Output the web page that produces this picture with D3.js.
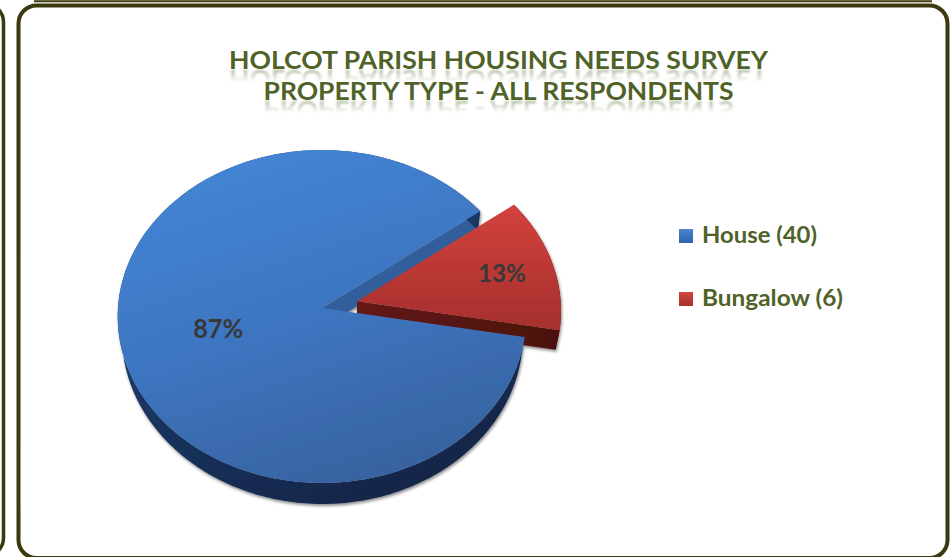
<!DOCTYPE html>
<html>
<head>
<meta charset="utf-8">
<script src="https://cdn.jsdelivr.net/npm/d3@7"></script>
<style>
  html, body { margin: 0; padding: 0; background: #ffffff; }
  svg { display: block; }
</style>
</head>
<body>
<svg id="chart" width="951" height="557"></svg>
<script>
// ---- data ----
const titleLines = ["HOLCOT PARISH HOUSING NEEDS SURVEY", "PROPERTY TYPE - ALL RESPONDENTS"];
const categories = ["House", "Bungalow"];
const counts = [40, 6];

// ---- layout / style ----
const W = 951, H = 557;
const CX = 322, CY = 308;         // projected pie centre
const RX = 204, RY = 150.3;       // projected radii
const G = -0.051;                 // perspective factor (front larger than back)
const DEPTH = 20;                 // extrusion height of the pie
const VP = [345, 1400];           // vanishing point of the extrusion
const explode = [0, 0.177];
const labelRadius = [0.52, 0.74];
const olive = "#4f6228";
const frameColor = "#3b390d";
const fontFamily = "Lato, 'Open Sans', 'DejaVu Sans', sans-serif";

const svg = d3.select("#chart");
const defs = svg.append("defs");

function grad(id, stops, x1, y1, x2, y2) {
  const g = defs.append("linearGradient").attr("id", id)
    .attr("x1", x1).attr("y1", y1).attr("x2", x2).attr("y2", y2);
  stops.forEach(([o, c]) => g.append("stop").attr("offset", o).attr("stop-color", c));
}
grad("blueTop", [[0, "#4486d6"], [0.55, "#3d74bf"], [1, "#3763a0"]], 0.2, 0, 0.6, 1);
grad("blueSide", [[0, "#25497c"], [1, "#12264a"]], 0, 0, 0.6, 1);
grad("blueCut", [[0, "#3567a6"], [1, "#2b5690"]], 0, 0, 1, 1);
grad("redTop", [[0, "#d3423d"], [1, "#a52f2d"]], 0, 0, 0, 1);
grad("redSide", [[0, "#641a16"], [1, "#4a110e"]], 0, 0, 1, 0);
grad("blueKey", [[0, "#4a86d0"], [1, "#2f62a6"]], 0, 0, 0, 1);
grad("redKey", [[0, "#d2453f"], [1, "#a8302c"]], 0, 0, 0, 1);

const shadow = defs.append("filter").attr("id", "pieShadow")
  .attr("x", "-10%").attr("y", "-10%").attr("width", "120%").attr("height", "125%");
shadow.append("feDropShadow").attr("dx", 1).attr("dy", 2)
  .attr("stdDeviation", 1.6).attr("flood-color", "#000").attr("flood-opacity", 0.45);

const softBlur = defs.append("filter").attr("id", "softBlur")
  .attr("x", "-5%").attr("y", "-30%").attr("width", "110%").attr("height", "160%");
softBlur.append("feGaussianBlur").attr("stdDeviation", 1.1);

// ---- frames ----
svg.append("rect").attr("x", -400).attr("y", 4).attr("width", 403.5).attr("height", 552)
  .attr("rx", 18).attr("fill", "none").attr("stroke", frameColor).attr("stroke-width", 3.5);
svg.append("line").attr("x1", 34).attr("x2", 932).attr("y1", 1.2).attr("y2", 1.2)
  .attr("stroke", frameColor).attr("stroke-width", 2);
svg.append("rect").attr("x", 18.5).attr("y", 5.5).attr("width", 929).attr("height", 552.5)
  .attr("rx", 18).attr("fill", "#ffffff").attr("stroke", frameColor).attr("stroke-width", 4);

// ---- title: two lines in one text, with a faded mirror under each line ----
const titleBase = [69, 100];
const titleLen = [539, 470];
const reflH = 13;
titleBase.forEach((b, i) => {
  const mg = defs.append("linearGradient").attr("id", "reflFade" + i)
    .attr("gradientUnits", "userSpaceOnUse")
    .attr("x1", 0).attr("x2", 0).attr("y1", b).attr("y2", b + reflH);
  mg.append("stop").attr("offset", 0).attr("stop-color", "#fff").attr("stop-opacity", 0.45);
  mg.append("stop").attr("offset", 1).attr("stop-color", "#fff").attr("stop-opacity", 0);
  defs.append("mask").attr("id", "reflMask" + i)
    .attr("maskUnits", "userSpaceOnUse").attr("x", 0).attr("y", b).attr("width", W).attr("height", reflH)
    .append("rect").attr("x", 0).attr("y", b).attr("width", W).attr("height", reflH)
    .attr("fill", `url(#reflFade${i})`);
  svg.append("g").attr("mask", `url(#reflMask${i})`)
    .append("use").attr("href", "#chartTitle")
    .attr("filter", "url(#softBlur)")
    .attr("transform", `translate(0,${2 * b + 1}) scale(1,-1)`);
});
svg.append("text").attr("id", "chartTitle")
  .attr("text-anchor", "middle")
  .attr("font-family", fontFamily).attr("font-weight", 700).attr("font-size", 25.5)
  .attr("fill", olive)
  .selectAll("tspan").data(titleLines).join("tspan")
  .attr("x", 498.5).attr("y", (d, i) => titleBase[i])
  .attr("textLength", (d, i) => titleLen[i]).attr("lengthAdjust", "spacingAndGlyphs")
  .text(d => d);

// ---- 3D pie ----
const deg = Math.PI / 180;
const pie = d3.pie().sort(null).startAngle(100 * deg).endAngle(460 * deg);
const arcs = pie(counts);
const total = d3.sum(counts);
const pct = d3.format(".0%");

// disk-plane point -> screen; h = 0 top face, 1 bottom face
function project(u, v, h) {
  const w = 1 + G * v;
  const top = [CX + RX * u / w, (RY * v + CY) / w];
  if (!h) return top;
  const dx = VP[0] - top[0], dy = VP[1] - top[1], len = Math.hypot(dx, dy);
  const d = DEPTH * h / w;
  return [top[0] + d * dx / len, top[1] + d * dy / len];
}
function offsetOf(i) {
  const a = arcs[i], mid = (a.startAngle + a.endAngle) / 2, e = explode[i];
  return [e * Math.sin(mid), -e * Math.cos(mid)];
}
function rimPoint(i, ang, r, h) {
  const [ox, oy] = offsetOf(i);
  return project(ox + r * Math.sin(ang), oy - r * Math.cos(ang), h);
}
function sampleAngles(a0, a1) {
  const n = Math.max(2, Math.ceil(Math.abs(a1 - a0) / deg));
  return d3.range(n + 1).map(k => a0 + (a1 - a0) * k / n);
}
const line = d3.line();

function topFace(i) {
  const a = arcs[i];
  const pts = [rimPoint(i, 0, 0, 0)].concat(sampleAngles(a.startAngle, a.endAngle).map(t => rimPoint(i, t, 1, 0)));
  return line(pts) + "Z";
}
function outerWall(i) {
  const a = arcs[i];
  const angs = sampleAngles(a.startAngle, a.endAngle);
  const pts = angs.map(t => rimPoint(i, t, 1, 0)).concat(angs.slice().reverse().map(t => rimPoint(i, t, 1, 1)));
  return line(pts) + "Z";
}
function radialWall(i, ang) {
  const pts = [rimPoint(i, ang, 0, 0), rimPoint(i, ang, 1, 0), rimPoint(i, ang, 1, 1), rimPoint(i, ang, 0, 1)];
  return line(pts) + "Z";
}

const pieG = svg.append("g").attr("filter", "url(#pieShadow)");
// cut face of the large slice showing in the gap
pieG.append("path").attr("d", radialWall(0, arcs[0].endAngle)).attr("fill", "url(#blueCut)");
// walls of the pulled-out slice
pieG.append("path").attr("d", radialWall(1, arcs[1].endAngle)).attr("fill", "url(#redSide)");
pieG.append("path").attr("d", outerWall(1)).attr("fill", "#4e120f");
// rim of the large slice
pieG.append("path").attr("d", outerWall(0)).attr("fill", "url(#blueSide)");
// top faces
pieG.append("path").attr("d", topFace(0)).attr("fill", "url(#blueTop)");
pieG.append("path").attr("d", topFace(1)).attr("fill", "url(#redTop)");

// percentage labels
const labelSize = [26, 24];
arcs.forEach((a, i) => {
  const mid = (a.startAngle + a.endAngle) / 2;
  const [x, y] = rimPoint(i, mid, labelRadius[i], 0);
  svg.append("text").attr("x", x).attr("y", y).attr("text-anchor", "middle")
    .attr("dy", "0.36em")
    .attr("font-family", fontFamily)
    .attr("font-weight", 700).attr("font-size", labelSize[i])
    .attr("textLength", i === 0 ? 50 : 48).attr("lengthAdjust", "spacingAndGlyphs")
    .attr("fill", "#383838").text(pct(counts[i] / total));
});

// ---- legend ----
const legendY = d3.scalePoint().domain(categories).range([243, 306]);
const keyFill = ["url(#blueKey)", "url(#redKey)"];
const legendLen = [115, 141];
categories.forEach((c, i) => {
  const by = legendY(c);
  svg.append("rect").attr("x", 679).attr("y", by - 14).attr("width", 14).attr("height", 14)
    .attr("fill", keyFill[i]);
  svg.append("text").attr("x", 702).attr("y", by)
    .attr("font-family", fontFamily)
    .attr("font-weight", 700).attr("font-size", 22)
    .attr("textLength", legendLen[i]).attr("lengthAdjust", "spacingAndGlyphs")
    .attr("fill", olive).text(`${c} (${counts[i]})`);
});
</script>
</body>
</html>
